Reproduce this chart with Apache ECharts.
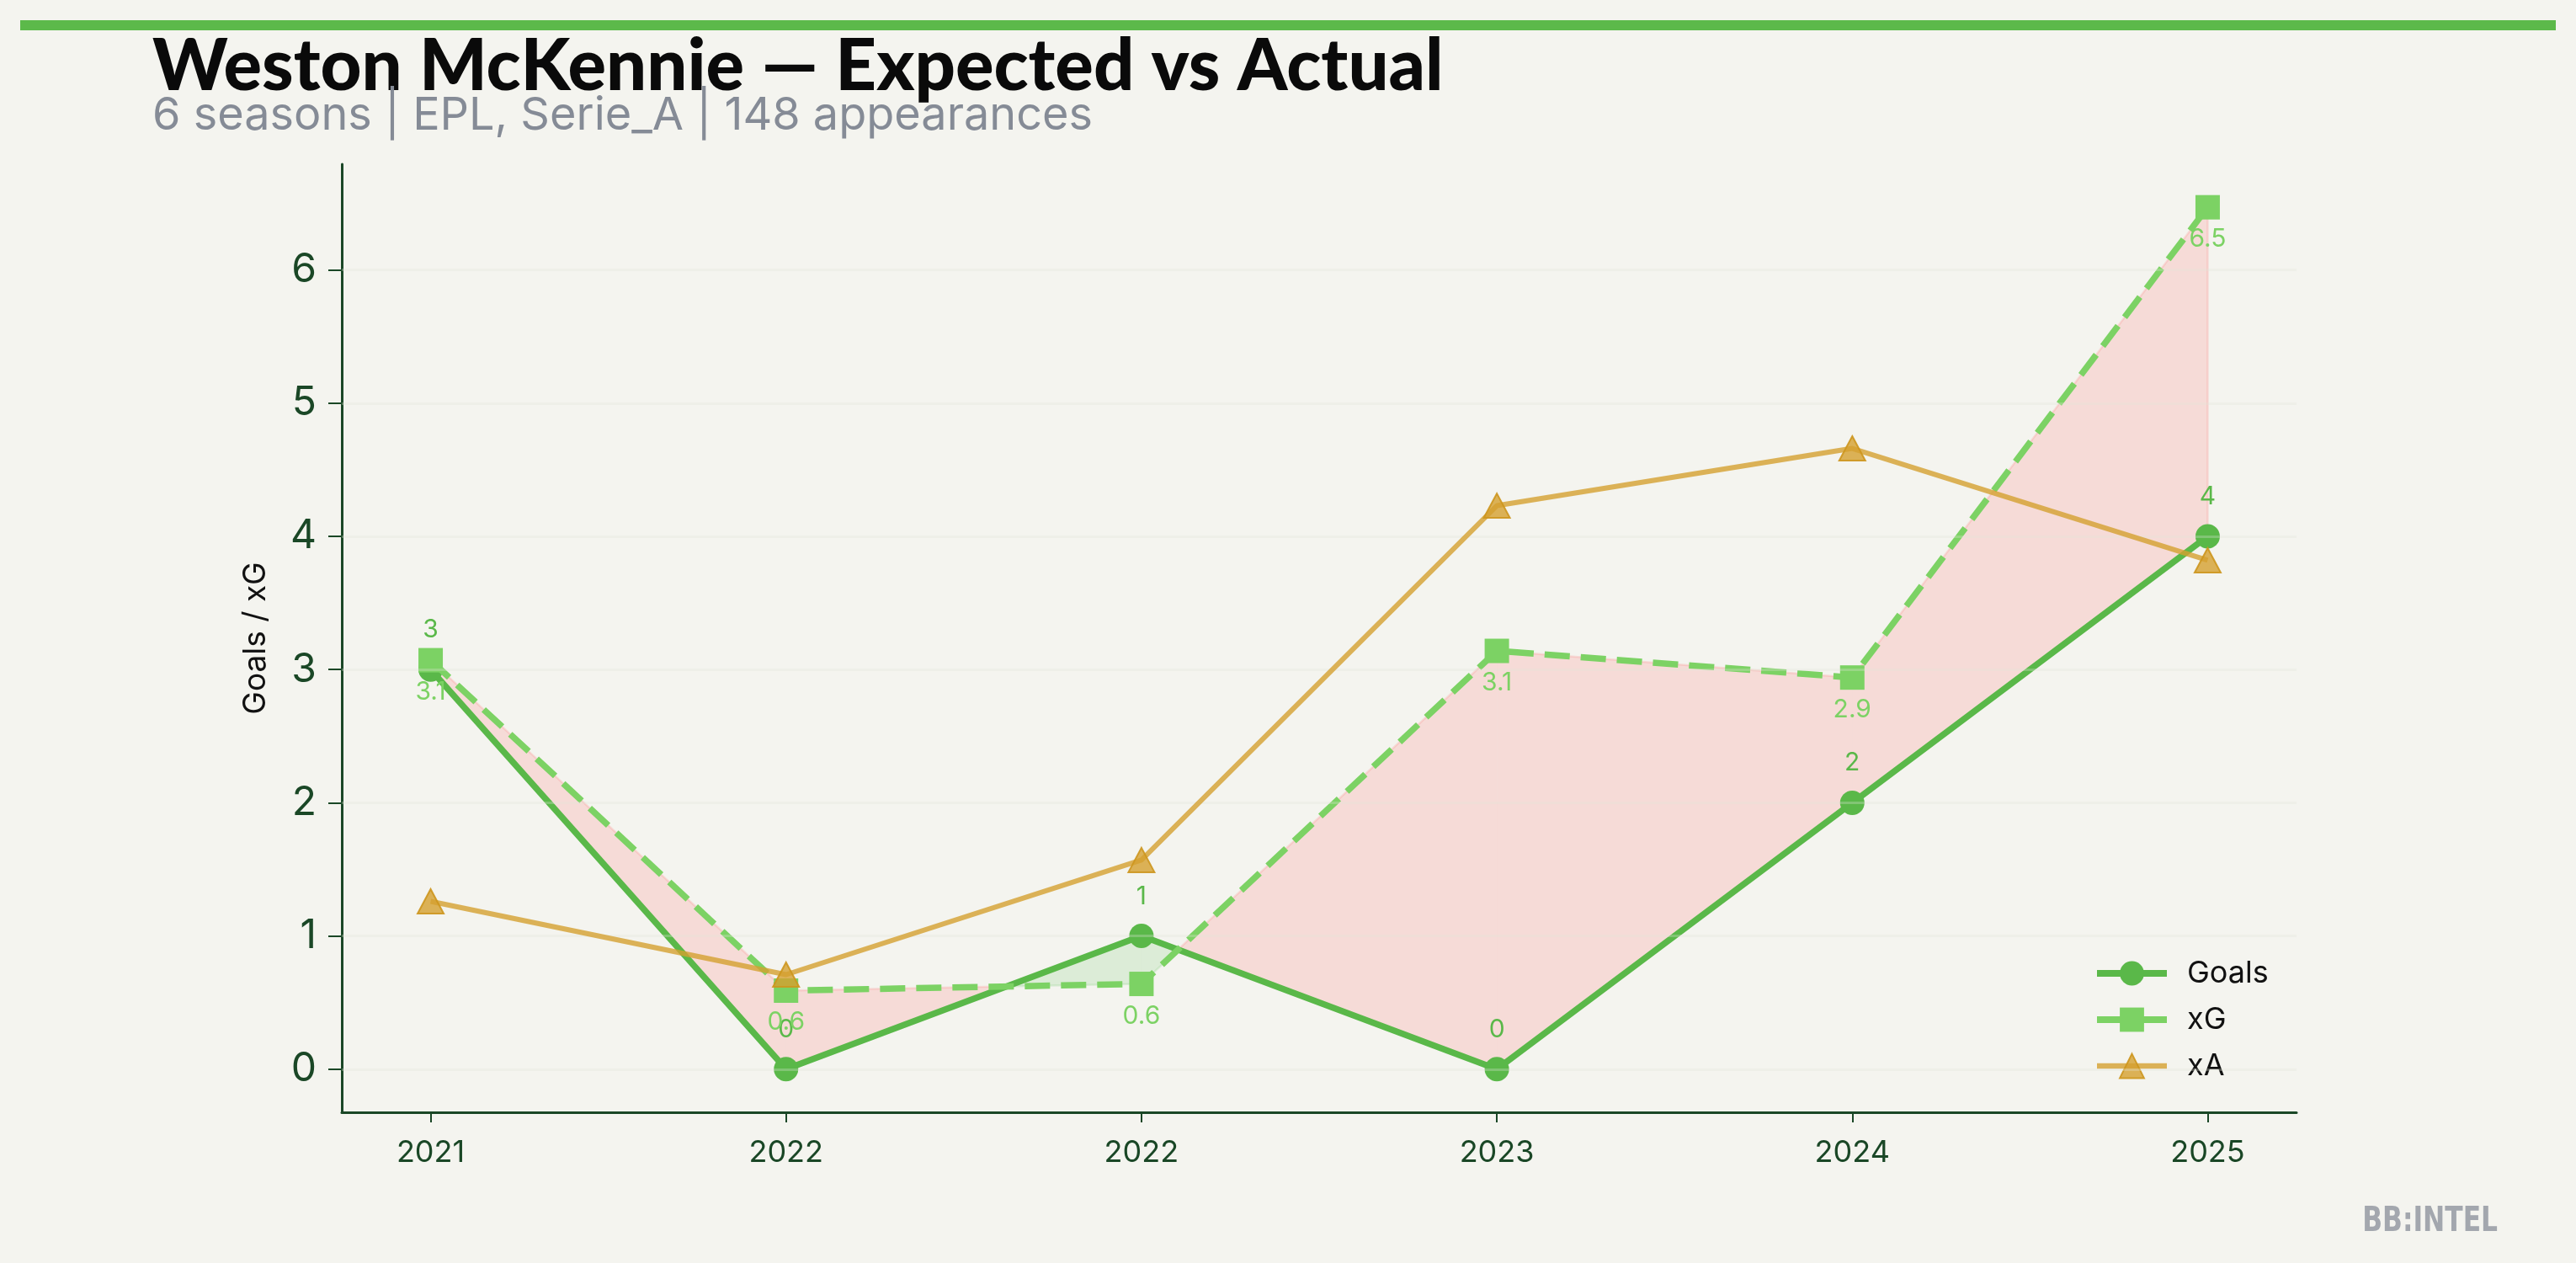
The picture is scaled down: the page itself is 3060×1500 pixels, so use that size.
<!DOCTYPE html>
<html><head><meta charset="utf-8">
<style>html,body{margin:0;padding:0;background:#f4f4ef;}#c{width:3060px;height:1500px;}</style>
<script src="https://cdn.jsdelivr.net/npm/echarts@6/dist/echarts.min.js"></script>
</head><body><div id="c"></div>
<script>
const seasons = ['2021', '2022', '2022', '2023', '2024', '2025'];
const goals = [3, 0, 1, 0, 2, 4];
const xg = [3.07, 0.59, 0.64, 3.14, 2.94, 6.47];
const xa = [1.26, 0.71, 1.57, 4.23, 4.66, 3.82];
const xTicks = [0, 1, 2, 3, 4, 5];
const yTicks = [0, 1, 2, 3, 4, 5, 6];

const C_GOALS = '#5ab849', C_XG = '#7cd264', C_XA = '#d4a030';
const AX = '#1a4726';
const FONT = 'Inter, "Noto Sans", sans-serif';

const chart = echarts.init(document.getElementById('c'), null, {renderer: 'canvas'});

const fillData = goals.slice(0, -1).map((g, i) => [i, g, xg[i], goals[i + 1], xg[i + 1]]);
const lastIdx = goals.length - 1;
const PINK = 'rgba(255,105,106,0.18)', GREEN = 'rgba(111,200,106,0.18)';

function renderFill(params, api) {
  const i = api.value(0);
  const ga = api.value(1), xa0 = api.value(2), gb = api.value(3), xb = api.value(4);
  const g0 = api.coord([i, ga]), x0 = api.coord([i, xa0]);
  const g1 = api.coord([i + 1, gb]), x1 = api.coord([i + 1, xb]);
  const d0 = xa0 - ga, d1 = xb - gb;
  const children = [];
  const poly = (pts, pos) => ({type: 'polygon', shape: {points: pts}, style: {fill: pos ? PINK : GREEN, stroke: null}});
  const edge = (pts, pos) => ({type: 'polyline', shape: {points: pts}, style: {fill: null, stroke: pos ? PINK : GREEN, lineWidth: 2.5}});
  if (d0 * d1 >= 0) {
    const pos = (d0 + d1) > 0;
    children.push(poly([g0, g1, x1, x0], pos));
    children.push(edge([x0, x1], pos));
    if (i === 0) children.push(edge([g0, x0], pos));
    if (i + 1 === lastIdx) children.push(edge([x1, g1], pos));
  } else {
    const t = d0 / (d0 - d1);
    const c = [g0[0] + (g1[0] - g0[0]) * t, g0[1] + (g1[1] - g0[1]) * t];
    children.push(poly([g0, c, x0], d0 > 0));
    children.push(poly([c, g1, x1], d1 > 0));
    children.push(edge([x0, c], d0 > 0));
    children.push(edge([c, x1], d1 > 0));
  }
  return {type: 'group', children};
}

const option = {
  backgroundColor: '#f4f4ef',
  animation: false,
  textStyle: {fontFamily: FONT},
  graphic: [
    {type: 'rect', shape: {x: 24, y: 24, width: 3012, height: 12}, style: {fill: '#5cb94a'}},
    {type: 'text', style: {text: 'Weston McKennie — Expected vs Actual', x: 181, y: 80, verticalAlign: 'middle',
      font: '900 85px Lato, Inter, sans-serif', fill: '#0a0a0a'}},
    {type: 'text', style: {text: '6 seasons | EPL, Serie_A | 148 appearances', x: 181, y: 138, verticalAlign: 'middle',
      font: '400 54px Inter, sans-serif', fill: '#858b96'}},
    {type: 'text', x: 2967, y: 1452, scaleX: 0.87, style: {text: 'BB:INTEL', x: 0, y: 0, align: 'right', verticalAlign: 'middle',
      font: 'bold 40px "Liberation Sans Narrow", "DejaVu Sans Condensed", sans-serif', fill: '#a3a7ae'}}
  ],
  grid: {left: 406, right: 332, top: 195, bottom: 179, containLabel: false},
  xAxis: {
    type: 'value', min: -0.25, max: 5.25,
    axisLine: {show: true, onZero: false, lineStyle: {color: AX, width: 3}},
    axisTick: {show: true, customValues: xTicks, length: 12, lineStyle: {color: AX, width: 2}},
    axisLabel: {customValues: xTicks, formatter: v => seasons[Math.round(v)], color: AX, fontSize: 36, margin: 30, fontFamily: FONT},
    splitLine: {show: false}
  },
  yAxis: {
    type: 'value', min: -0.3235, max: 6.7935,
    name: 'Goals / xG', nameLocation: 'middle', nameGap: 84, nameRotate: 90,
    nameTextStyle: {color: '#111', fontSize: 37, fontFamily: FONT},
    axisLine: {show: true, onZero: false, lineStyle: {color: AX, width: 3}},
    axisTick: {show: true, customValues: yTicks, length: 16, lineStyle: {color: AX, width: 2}},
    axisLabel: {customValues: yTicks, color: AX, fontSize: 48, margin: 30, fontFamily: FONT},
    splitLine: {show: false}
  },
  legend: {
    orient: 'vertical', left: 2487, top: 1138, itemWidth: 83, itemHeight: 36, itemGap: 19, padding: 0,
    textStyle: {fontSize: 36, color: '#111', padding: [0, 0, 0, 19], fontFamily: FONT},
    lineStyle: {width: 8},
    data: [{name: 'Goals', lineStyle: {width: 8}}, {name: 'xG', lineStyle: {type: 'solid', width: 8}}, {name: 'xA', lineStyle: {width: 6.5}}]
  },
  series: [
    {
      type: 'custom', name: 'fill', data: fillData, renderItem: renderFill, z: 1, silent: true,
      encode: {x: 0, y: [1, 2, 3, 4]},
      markLine: {silent: true, symbol: 'none', label: {show: false},
        lineStyle: {color: 'rgba(225,228,215,0.3)', width: 3, type: 'solid'},
        data: yTicks.map(v => ({yAxis: v}))}
    },
    {
      type: 'line', name: 'Goals', data: goals.map((v, i) => [xTicks[i], v]), z: 3,
      symbol: 'circle', symbolSize: 29,
      lineStyle: {color: C_GOALS, width: 7.5}, itemStyle: {color: C_GOALS},
      label: {show: true, position: 'inside', offset: [0, -47], color: C_GOALS, fontSize: 30, fontFamily: FONT,
        formatter: p => String(Math.round(p.value[1]))}
    },
    {
      type: 'line', name: 'xG', data: xg.map((v, i) => [xTicks[i], v]), z: 4,
      symbol: 'rect', symbolSize: 29,
      lineStyle: {color: C_XG, width: 7.5, type: [30, 13]}, itemStyle: {color: C_XG},
      label: {show: true, position: 'inside', offset: [0, 38], color: C_XG, fontSize: 30, fontFamily: FONT,
        formatter: p => p.value[1].toFixed(1)}
    },
    {
      type: 'line', name: 'xA', data: xa.map((v, i) => [xTicks[i], v]), z: 5,
      symbol: 'triangle', symbolSize: [31, 29],
      lineStyle: {color: C_XA, width: 6, opacity: 0.8},
      itemStyle: {color: 'rgba(212,160,48,0.8)', borderColor: 'rgba(205,150,30,0.9)', borderWidth: 2}
    }
  ]
};
chart.setOption(option);
</script></body></html>
